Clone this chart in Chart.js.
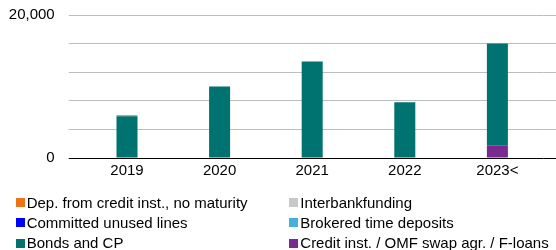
<!DOCTYPE html>
<html>
<head>
<meta charset="utf-8">
<script src="https://cdn.jsdelivr.net/npm/chart.js@4/dist/chart.umd.min.js"></script>
<style>
html,body{margin:0;padding:0;background:#fff;overflow:hidden;width:556px;height:250px;position:relative;}
#wrap{position:absolute;left:0;top:-8px;width:640px;height:193px;}
#title{position:absolute;left:0;top:-18px;width:640px;text-align:center;font:bold 15px "Liberation Sans",Arial,sans-serif;color:#595959;white-space:nowrap;}
#legend{position:absolute;left:0;top:0;width:700px;height:250px;font:15px "Liberation Sans",Arial,sans-serif;color:#000;}
.item{position:absolute;display:flex;align-items:center;white-space:nowrap;height:18px;line-height:18px;}
.box{width:9px;height:9px;flex:none;}
.lab{margin-left:2px;}
</style>
</head>
<body>
<div id="title">Maturity profile (NOKm)</div>
<div id="wrap"><canvas id="c"></canvas></div>
<div id="legend"></div>
<script>
// ---- data ----
const categories = ['2019', '2020', '2021', '2022', '2023<'];
const depCreditNoMaturity = [130, 0, 0, 0, 0];
const interbankFunding = [0, 0, 0, 0, 0];
const committedUnusedLines = [0, 0, 0, 0, 0];
const brokeredTimeDeposits = [0, 0, 0, 0, 0];
const bondsAndCP = [5850, 10000, 13500, 7800, 14300];
const creditInstSwap = [0, 0, 0, 0, 1700];
const yLabelledTicks = [0, 20000];

// legend order as in the reference (two columns)
const legendSeries = [
  {label: 'Dep. from credit inst., no maturity', data: depCreditNoMaturity, color: '#EC7318'},
  {label: 'Interbankfunding', data: interbankFunding, color: '#C8C8C8'},
  {label: 'Committed unused lines', data: committedUnusedLines, color: '#0000FF'},
  {label: 'Brokered time deposits', data: brokeredTimeDeposits, color: '#4AADE2'},
  {label: 'Bonds and CP', data: bondsAndCP, color: '#007370'},
  {label: 'Credit inst. / OMF swap agr. / F-loans', data: creditInstSwap, color: '#7A2A8E'}
];

// stacking order: bottom first
const stackOrder = [5, 4, 3, 2, 1, 0];
const datasets = stackOrder.map(i => ({
  label: legendSeries[i].label,
  data: legendSeries[i].data,
  backgroundColor: legendSeries[i].color,
  borderWidth: 0,
  barPercentage: 0.227,
  categoryPercentage: 1.0
}));

const gridCol = (ctx) => (ctx.tick && ctx.tick.value === 0) ? '#000000' : '#BDBDBD';

const extendGrid = {
  id: 'extendGrid',
  beforeDatasetsDraw(chart) {
    const y = chart.scales.y, area = chart.chartArea, ctx = chart.ctx;
    ctx.save();
    ctx.lineWidth = 1;
    y.ticks.forEach(t => {
      const py = Math.round(y.getPixelForValue(t.value) - 0.5) + 0.5;
      ctx.strokeStyle = t.value === 0 ? '#000000' : '#BDBDBD';
      ctx.beginPath();
      ctx.moveTo(area.right, py);
      ctx.lineTo(chart.width, py);
      ctx.stroke();
    });
    ctx.restore();
  }
};

new Chart(document.getElementById('c'), {
  type: 'bar',
  data: {labels: categories, datasets: datasets},
  plugins: [extendGrid],
  options: {
    responsive: true,
    maintainAspectRatio: false,
    animation: false,
    layout: {padding: {left: 0, right: 96.3, top: 0, bottom: 0}},
    plugins: {legend: {display: false}, title: {display: false}, tooltip: {enabled: false}},
    scales: {
      x: {
        stacked: true,
        offset: true,
        grid: {display: false, drawTicks: false},
        border: {display: false},
        ticks: {color: '#000', padding: 4, font: {family: '"Liberation Sans", Arial, sans-serif', size: 15}, maxRotation: 0, autoSkip: false},
        afterFit: (s) => { s.height = 27; }
      },
      y: {
        stacked: true,
        min: 0,
        max: 20000,
        grid: {color: gridCol, tickColor: gridCol, drawTicks: true, tickLength: 12, lineWidth: 1},
        border: {display: false},
        ticks: {
          stepSize: 4000,
          padding: 14,
          color: '#000',
          font: {family: '"Liberation Sans", Arial, sans-serif', size: 15},
          callback: (v) => yLabelledTicks.includes(v) ? v.toLocaleString('en-US') : ''
        },
        afterFit: (s) => { s.width = 80.7; }
      }
    }
  }
});

// legend
const leg = document.getElementById('legend');
legendSeries.forEach((s, i) => {
  const row = Math.floor(i / 2), col = i % 2;
  const el = document.createElement('div');
  el.className = 'item';
  el.style.left = (col === 0 ? 15.7 : 289.3) + 'px';
  el.style.top = (193.5 + row * 20.3) + 'px';
  el.innerHTML = '<span class="box" style="background:' + s.color + '"></span><span class="lab">' + s.label + '</span>';
  leg.appendChild(el);
});
</script>
</body>
</html>
